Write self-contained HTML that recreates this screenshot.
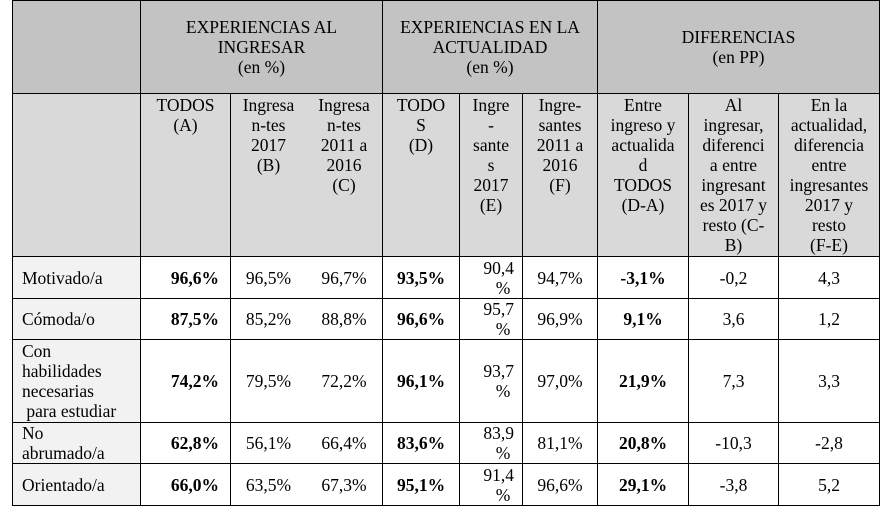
<!DOCTYPE html>
<html><head><meta charset="utf-8"><style>
body{margin:0;width:890px;height:522px;background:#fff;position:relative;overflow:hidden;font-family:"Liberation Serif",serif;font-size:17.5px;color:#000}
.c{position:absolute;box-sizing:border-box;border:1px solid #000;display:flex;flex-direction:column;justify-content:center;align-items:center;text-align:center;line-height:20px;margin:-1px 0 0 -1px;white-space:nowrap}
.h1{background:#c3c3c3}
.h2{background:#d9d9d9;justify-content:flex-start;padding-top:1px}
.lab{background:#f2f2f2;align-items:flex-start;text-align:left;padding-left:9px}
.b{font-weight:bold}
.r{align-items:flex-end;text-align:right;padding-right:11px}
.nl{border-left:none}
.nr{border-right:none}
</style></head><body>
<div class="c h1" style="left:13px;top:1px;width:129px;height:94px"></div>
<div class="c h1" style="left:141px;top:1px;width:243px;height:94px">EXPERIENCIAS AL<br>INGRESAR<br>(en %)</div>
<div class="c h1" style="left:383px;top:1px;width:216px;height:94px">EXPERIENCIAS EN LA<br>ACTUALIDAD<br>(en %)</div>
<div class="c h1" style="left:598px;top:1px;width:283px;height:94px">DIFERENCIAS<br>(en PP)</div>
<div class="c h2" style="left:13px;top:94px;width:129px;height:164px"></div>
<div class="c h2" style="left:141px;top:94px;width:91px;height:164px">TODOS<br>(A)</div>
<div class="c h2 nr" style="left:231px;top:94px;width:76px;height:164px">Ingresa<br>n-tes<br>2017<br>(B)</div>
<div class="c h2 nl" style="left:307px;top:94px;width:77px;height:164px">Ingresa<br>n-tes<br>2011 a<br>2016<br>(C)</div>
<div class="c h2" style="left:383px;top:94px;width:78px;height:164px">TODO<br>S<br>(D)</div>
<div class="c h2" style="left:460px;top:94px;width:64px;height:164px">Ingre<br>-<br>sante<br>s<br>2017<br>(E)</div>
<div class="c h2" style="left:523px;top:94px;width:76px;height:164px">Ingre-<br>santes<br>2011 a<br>2016<br>(F)</div>
<div class="c h2" style="left:598px;top:94px;width:92px;height:164px">Entre<br>ingreso y<br>actualida<br>d<br>TODOS<br>(D-A)</div>
<div class="c h2" style="left:689px;top:94px;width:91px;height:164px">Al<br>ingresar,<br>diferenci<br>a entre<br>ingresant<br>es 2017 y<br>resto (C-<br>B)</div>
<div class="c h2" style="left:779px;top:94px;width:102px;height:164px">En la<br>actualidad,<br>diferencia<br>entre<br>ingresantes<br>2017 y<br>resto<br>(F-E)</div>

<div class="c lab" style="left:13px;top:257px;width:129px;height:43px">Motivado/a</div>
<div class="c b r" style="left:141px;top:257px;width:91px;height:43px">96,6%</div>
<div class="c nr" style="left:231px;top:257px;width:76px;height:43px">96,5%</div>
<div class="c nl" style="left:307px;top:257px;width:77px;height:43px">96,7%</div>
<div class="c b" style="left:383px;top:257px;width:78px;height:43px">93,5%</div>
<div class="c r" style="left:460px;top:257px;width:64px;height:43px;padding-right:8px"><span style="text-align:center">90,4<br>&nbsp;&nbsp;%</span></div>
<div class="c" style="left:523px;top:257px;width:76px;height:43px">94,7%</div>
<div class="c b" style="left:598px;top:257px;width:92px;height:43px">-3,1%</div>
<div class="c" style="left:689px;top:257px;width:91px;height:43px">-0,2</div>
<div class="c" style="left:779px;top:257px;width:102px;height:43px">4,3</div>

<div class="c lab" style="left:13px;top:299px;width:129px;height:42px">Cómoda/o</div>
<div class="c b r" style="left:141px;top:299px;width:91px;height:42px">87,5%</div>
<div class="c nr" style="left:231px;top:299px;width:76px;height:42px">85,2%</div>
<div class="c nl" style="left:307px;top:299px;width:77px;height:42px">88,8%</div>
<div class="c b" style="left:383px;top:299px;width:78px;height:42px">96,6%</div>
<div class="c r" style="left:460px;top:299px;width:64px;height:42px;padding-right:8px"><span style="text-align:center">95,7<br>&nbsp;&nbsp;%</span></div>
<div class="c" style="left:523px;top:299px;width:76px;height:42px">96,9%</div>
<div class="c b" style="left:598px;top:299px;width:92px;height:42px">9,1%</div>
<div class="c" style="left:689px;top:299px;width:91px;height:42px">3,6</div>
<div class="c" style="left:779px;top:299px;width:102px;height:42px">1,2</div>

<div class="c lab" style="left:13px;top:340px;width:129px;height:84px">Con<br>habilidades<br>necesarias<br>&nbsp;para estudiar</div>
<div class="c b r" style="left:141px;top:340px;width:91px;height:84px">74,2%</div>
<div class="c nr" style="left:231px;top:340px;width:76px;height:84px">79,5%</div>
<div class="c nl" style="left:307px;top:340px;width:77px;height:84px">72,2%</div>
<div class="c b" style="left:383px;top:340px;width:78px;height:84px">96,1%</div>
<div class="c r" style="left:460px;top:340px;width:64px;height:84px;padding-right:8px"><span style="text-align:center">93,7<br>&nbsp;&nbsp;%</span></div>
<div class="c" style="left:523px;top:340px;width:76px;height:84px">97,0%</div>
<div class="c b" style="left:598px;top:340px;width:92px;height:84px">21,9%</div>
<div class="c" style="left:689px;top:340px;width:91px;height:84px">7,3</div>
<div class="c" style="left:779px;top:340px;width:102px;height:84px">3,3</div>

<div class="c lab" style="left:13px;top:423px;width:129px;height:42px">No<br>abrumado/a</div>
<div class="c b r" style="left:141px;top:423px;width:91px;height:42px">62,8%</div>
<div class="c nr" style="left:231px;top:423px;width:76px;height:42px">56,1%</div>
<div class="c nl" style="left:307px;top:423px;width:77px;height:42px">66,4%</div>
<div class="c b" style="left:383px;top:423px;width:78px;height:42px">83,6%</div>
<div class="c r" style="left:460px;top:423px;width:64px;height:42px;padding-right:8px"><span style="text-align:center">83,9<br>&nbsp;&nbsp;%</span></div>
<div class="c" style="left:523px;top:423px;width:76px;height:42px">81,1%</div>
<div class="c b" style="left:598px;top:423px;width:92px;height:42px">20,8%</div>
<div class="c" style="left:689px;top:423px;width:91px;height:42px">-10,3</div>
<div class="c" style="left:779px;top:423px;width:102px;height:42px">-2,8</div>

<div class="c lab" style="left:13px;top:464px;width:129px;height:43px">Orientado/a</div>
<div class="c b r" style="left:141px;top:464px;width:91px;height:43px">66,0%</div>
<div class="c nr" style="left:231px;top:464px;width:76px;height:43px">63,5%</div>
<div class="c nl" style="left:307px;top:464px;width:77px;height:43px">67,3%</div>
<div class="c b" style="left:383px;top:464px;width:78px;height:43px">95,1%</div>
<div class="c r" style="left:460px;top:464px;width:64px;height:43px;padding-right:8px"><span style="text-align:center">91,4<br>&nbsp;&nbsp;%</span></div>
<div class="c" style="left:523px;top:464px;width:76px;height:43px">96,6%</div>
<div class="c b" style="left:598px;top:464px;width:92px;height:43px">29,1%</div>
<div class="c" style="left:689px;top:464px;width:91px;height:43px">-3,8</div>
<div class="c" style="left:779px;top:464px;width:102px;height:43px">5,2</div>
</body></html>
